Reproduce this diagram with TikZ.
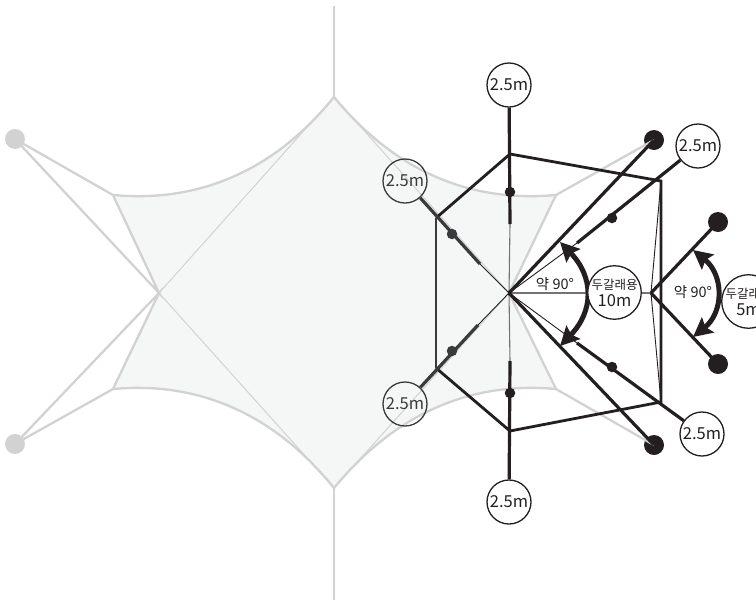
\documentclass[tikz,border=0pt]{standalone}
\usepackage{fontspec}
\setmainfont{Noto Sans CJK KR}
\usetikzlibrary{arrows.meta}
\definecolor{sailgray}{HTML}{D2D2D2}
\definecolor{sailfill}{HTML}{F5F7F7}
\definecolor{ink}{HTML}{231F20}
\definecolor{dimink}{HTML}{3A3A3C}
\tikzset{
  graywire/.style={draw=sailgray,line width=2.3pt},
  thingray/.style={draw=sailgray,line width=1pt},
  frame/.style={draw=ink,line width=2.8pt,line join=miter},
  dimframe/.style={draw=dimink,line width=2.8pt},
  stem/.style={draw=ink,line width=3.2pt},
  dimstem/.style={draw=dimink,line width=3.2pt},
  fine/.style={draw=ink,line width=0.9pt},
  finegray/.style={draw=black!55,line width=1.1pt},
  measure/.style={circle,draw=ink,line width=1.3pt,minimum size=44pt,inner sep=0pt,fill=white,text=ink,font=\fontsize{16.5}{18}\selectfont},
  openmeasure/.style={measure,fill=none,text=dimink,draw=dimink},
  span/.style={measure,minimum size=53pt,align=center,font=\fontsize{12.5}{13}\selectfont},
  anglelabel/.style={inner sep=1pt,text=ink,font=\fontsize{14.5}{15}\selectfont},
  anchordot/.style={circle,fill=ink,inner sep=0pt,minimum size=20pt},
  graydot/.style={circle,fill=sailgray,inner sep=0pt,minimum size=20pt},
  smalldot/.style={circle,fill=ink,inner sep=0pt,minimum size=10.5pt},
  dimdot/.style={circle,fill=dimink,inner sep=0pt,minimum size=10.5pt},
  swing/.style={draw=ink,line width=5pt,{Stealth[length=19pt,width=19pt,inset=3pt]}-{Stealth[length=19pt,width=19pt,inset=3pt]}}
}
\begin{document}
\begin{tikzpicture}[x=1pt,y=-1pt]
\useasboundingbox (0,0) rectangle (756,606);
\clip (0,0) rectangle (756,606);
\fill[white] (0,0) rectangle (756,606);
% key points
\coordinate (peakT) at (334,97);
\coordinate (peakB) at (334,488);
\coordinate (ropeT) at (334,6);
\coordinate (ropeB) at (334,600);
\coordinate (cL) at (159,293);
\coordinate (cR) at (509,293);
\coordinate (wUL) at (113,195);
\coordinate (wLL) at (113,389);
\coordinate (wUR) at (556,195);
\coordinate (wLR) at (556,389);
\coordinate (hT) at (510,154);
\coordinate (hUL) at (436,218);
\coordinate (hLL) at (436,368);
\coordinate (hB) at (510,431);
\coordinate (hLR) at (661,402);
\coordinate (hUR) at (661,181);
\coordinate (hub) at (651,293);
\coordinate (sT) at (510,224);
\coordinate (sB) at (510,361);
\coordinate (sUL) at (480,264);
\coordinate (sLL) at (478,325);
\coordinate (sUR) at (577,243);
\coordinate (sLR) at (577,343);
% sail
\path[fill=sailfill] (peakT) .. controls (275,170) and (200,203) .. (wUL) -- (cL) -- (wLL)
  .. controls (200,381) and (275,415) .. (peakB) .. controls (394,415) and (469,381) .. (wLR)
  -- (cR) -- (wUR) .. controls (469,203) and (394,170) .. (peakT) -- cycle;
\draw[graywire] (peakT) .. controls (275,170) and (200,203) .. (wUL);
\draw[graywire] (wLL) .. controls (200,381) and (275,415) .. (peakB);
\draw[graywire] (peakB) .. controls (394,415) and (469,381) .. (wLR);
\draw[graywire] (wUR) .. controls (469,203) and (394,170) .. (peakT);
\draw[graywire] (ropeT) -- (peakT);
\draw[graywire] (peakB) -- (ropeB);
\node[graydot] (gU) at (15,139) {};
\node[graydot] (gL) at (15,444) {};
\draw[graywire] (gU.center) -- (wUL) -- (cL) -- (gU.center);
\draw[graywire] (gL.center) -- (wLL) -- (cL) -- (gL.center);
\draw[thingray] (cL) -- (peakT) -- (cR) -- (peakB) -- (cL);
% black anchors
\node[anchordot] (aU) at (654,140) {};
\node[anchordot] (aD) at (654,445) {};
\node[anchordot] (bU) at (718,222) {};
\node[anchordot] (bD) at (718,364) {};
\draw[graywire] (aU.center) -- (wUR) -- (cR) -- (wLR) -- (aD.center);
% measures
\node[measure] (mT) at (509,85) {2.5m};
\node[measure] (mB) at (509,502) {2.5m};
\node[openmeasure] (mUL) at (405,181) {2.5m};
\node[openmeasure] (mLL) at (405,404) {2.5m};
\node[measure] (mUR) at (698,146) {2.5m};
\node[measure] (mLR) at (702,434) {2.5m};
% thin lines
\draw[finegray] (cR) -- (sT);
\draw[finegray] (cR) -- (sB);
\draw[fine] (cR) -- (sUL);
\draw[fine] (cR) -- (sLL);
\draw[fine] (cR) -- (sUR);
\draw[fine] (cR) -- (sLR);
\draw[fine] (hub) -- (hUR);
\draw[fine] (hub) -- (hLR);
\draw[draw=black!55,line width=1.4pt] (cR) -- (hub);
% frame
\draw[frame] (hUL) -- (hT) -- (hUR) -- (hLR) -- (hB) -- (hLL);
\draw[dimframe] (hUL) -- (hLL);
% stems
\draw[stem] (mT) -- (sT);
\draw[stem] (mB) -- (sB);
\draw[dimstem] (mUL) -- (sUL);
\draw[dimstem] (mLL) -- (sLL);
\draw[stem] (mUR) -- (sUR);
\draw[stem] (mLR) -- (sLR);
\draw[stem] (cR) -- (aU.center);
\draw[stem] (cR) -- (aD.center);
\draw[stem] (hub) -- (bU.center);
\draw[stem] (hub) -- (bD.center);
\node[smalldot] (dT) at (510,192) {};
\node[smalldot] (dB) at (510,393) {};
\node[dimdot] (dUL) at (452,234) {};
\node[dimdot] (dLL) at (452,351) {};
\node[smalldot] (dUR) at (612,218) {};
\node[smalldot] (dLR) at (612,367) {};
% angle arrows
\coordinate (swA) at (560,242);
\coordinate (swB) at (560,346);
\coordinate (swC) at (693,250);
\coordinate (swD) at (693,337);
\draw[swing] (swA) .. controls (594,277) and (594,311) .. (swB);
\draw[swing] (swC) .. controls (724,275) and (724,312) .. (swD);
% labels
\node[anglelabel] (l90a) at (555,284) {약 90°};
\node[anglelabel] (l90b) at (693,292) {약 90°};
\node[span] (s10) at (614.5,292.5) {\raisebox{1pt}{두갈래용}\\[3pt]{\fontsize{16.5}{15}\selectfont 10m}};
\node[span] (s5) at (748.5,301.5) {\raisebox{1pt}{두갈래용}\\[3pt]{\fontsize{16.5}{15}\selectfont 5m}};
\end{tikzpicture}
\end{document}
